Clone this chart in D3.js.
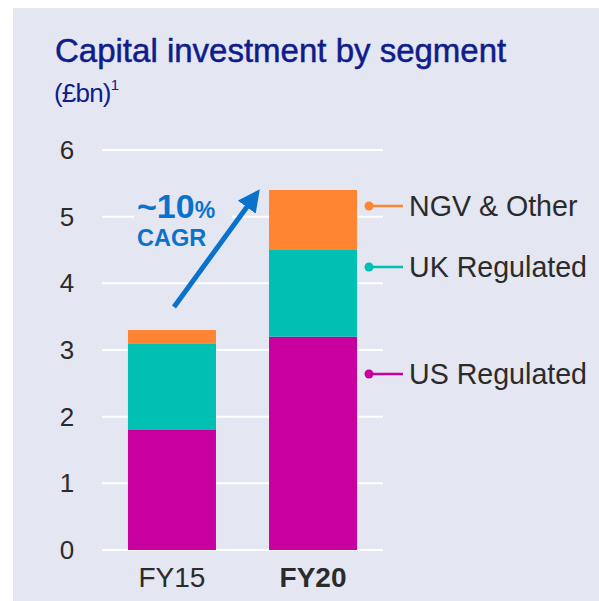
<!DOCTYPE html>
<html>
<head>
<meta charset="UTF-8">
<script src="https://d3js.org/d3.v7.min.js"></script>
<style>
  body { margin: 0; background: #fff; }
  text { font-family: "Liberation Sans", Arial, sans-serif; }
</style>
</head>
<body>
<div id="root"></div>
<script>
  const categories = ['FY15', 'FY20'];
  const segments = ['US Regulated', 'UK Regulated', 'NGV & Other'];
  const usRegulated = [1.8, 3.2];
  const ukRegulated = [1.3, 1.3];
  const ngvOther = [0.2, 0.9];
  const yTicks = [0, 1, 2, 3, 4, 5, 6];
  const colors = ['#c800a0', '#00bfb3', '#ff8533'];

  const W = 599, H = 601;
  const svg = d3.select('#root').append('svg').attr('width', W).attr('height', H);

  svg.append('rect').attr('x', 13).attr('y', 8).attr('width', W - 13).attr('height', H - 8)
    .attr('fill', '#e4e6f2');

  // title
  svg.append('text').attr('x', 55).attr('y', 62)
    .attr('fill', '#0f1c8c').attr('stroke', '#0f1c8c').attr('stroke-width', 0.5)
    .attr('font-size', 33)
    .text('Capital investment by segment');
  const sub = svg.append('text').attr('x', 54).attr('y', 102)
    .attr('fill', '#0f1c8c').attr('font-size', 26).attr('letter-spacing', -0.8);
  sub.append('tspan').text('(£bn)');
  sub.append('tspan').attr('font-size', 15).attr('dy', -12).text('1');

  const x = d3.scaleBand().domain(categories).range([102, 383]).paddingInner(0.376).paddingOuter(0.184);
  const y = d3.scaleLinear().domain([0, 6]).range([550, 150]);

  const rows = categories.map((c, i) => ({
    cat: c,
    'US Regulated': usRegulated[i],
    'UK Regulated': ukRegulated[i],
    'NGV & Other': ngvOther[i]
  }));
  const stacked = d3.stack().keys(segments)(rows);

  // gridlines
  svg.append('g').selectAll('line').data(yTicks).join('line')
    .attr('x1', 102).attr('x2', 383)
    .attr('y1', d => y(d)).attr('y2', d => y(d))
    .attr('stroke', '#fff').attr('stroke-width', 2);

  // y labels
  svg.append('g').selectAll('text').data(yTicks).join('text')
    .attr('x', 67).attr('y', d => y(d) + 9)
    .attr('text-anchor', 'middle').attr('font-size', 26).attr('fill', '#2b2b2b')
    .text(d => d);

  // bars
  svg.append('g').selectAll('g').data(stacked).join('g')
    .attr('fill', (d, i) => colors[i])
    .selectAll('rect').data(d => d).join('rect')
    .attr('x', d => x(d.data.cat))
    .attr('width', x.bandwidth())
    .attr('y', d => y(d[1]))
    .attr('height', d => y(d[0]) - y(d[1]));

  // x labels
  svg.append('g').selectAll('text').data(categories).join('text')
    .attr('x', d => x(d) + x.bandwidth() / 2).attr('y', 587)
    .attr('text-anchor', 'middle').attr('font-size', 28).attr('fill', '#2b2b2b')
    .attr('font-weight', (d, i) => i === 1 ? 'bold' : 'normal')
    .text(d => d);

  // legend, next to FY20 segments
  const legendY = [374, 267, 206];
  segments.forEach((s, i) => {
    const g = svg.append('g').attr('transform', `translate(0,${legendY[i]})`);
    g.append('circle').attr('cx', 369).attr('cy', 0).attr('r', 4.5).attr('fill', colors[i]);
    g.append('line').attr('x1', 369).attr('x2', 403).attr('y1', 0).attr('y2', 0)
      .attr('stroke', colors[i]).attr('stroke-width', 2.5);
    g.append('text').attr('x', 409).attr('y', 10).attr('font-size', 28.6).attr('fill', '#2b2b2b')
      .text(s);
  });

  // CAGR annotation
  svg.append('rect').attr('x', 134).attr('y', 196).attr('width', 98).attr('height', 26).attr('fill', '#e4e6f2');
  const cagr = svg.append('text').attr('x', 137).attr('y', 218)
    .attr('fill', '#0a72cc').attr('font-weight', 'bold');
  cagr.append('tspan').attr('font-size', 34).text('~10');
  cagr.append('tspan').attr('font-size', 23).text('%');
  svg.append('text').attr('x', 137).attr('y', 246)
    .attr('fill', '#0a72cc').attr('font-weight', 'bold').attr('font-size', 23.5)
    .text('CAGR');

  const defs = svg.append('defs');
  defs.append('marker').attr('id', 'ah').attr('viewBox', '0 0 10 10')
    .attr('refX', 4).attr('refY', 5).attr('markerWidth', 4.4).attr('markerHeight', 4.4)
    .attr('orient', 'auto')
    .append('path').attr('d', 'M0,0 L10,5 L0,10 z').attr('fill', '#0a72cc');
  svg.append('line').attr('x1', 174).attr('y1', 307).attr('x2', 252).attr('y2', 200)
    .attr('stroke', '#0a72cc').attr('stroke-width', 5).attr('marker-end', 'url(#ah)');
</script>
</body>
</html>
